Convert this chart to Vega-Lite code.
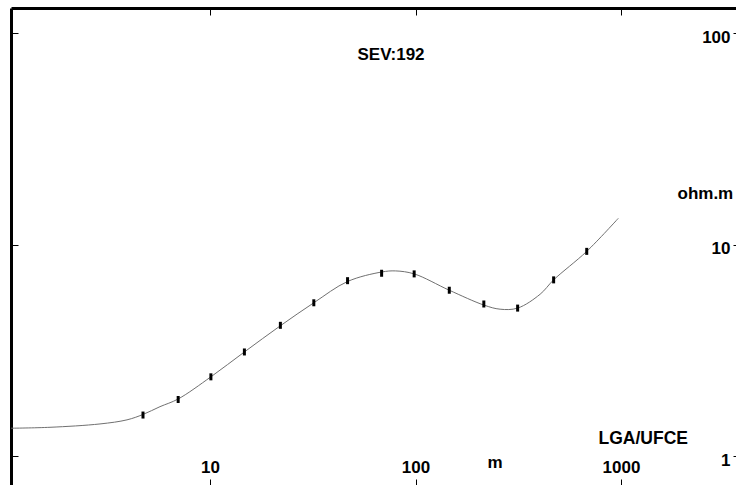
{
  "$schema": "https://vega.github.io/schema/vega-lite/v6.json",
  "width": 729,
  "height": 477,
  "autosize": {"type": "none"},
  "padding": {"left": 11, "top": 8, "right": 0, "bottom": 0},
  "background": "white",
  "config": {"view": {"stroke": null}, "font": "Liberation Sans"},
  "title": {"text": "SEV:192", "font": "Liberation Sans", "fontSize": 17, "fontWeight": "bold", "color": "black", "anchor": "middle", "dx": 15.5, "offset": -69.5, "baseline": "alphabetic"},
  "resolve": {"axis": {"x": "independent", "y": "independent"}},
  "layer": [
    {
      "data": {"values": [
        {"ab2": 1.07, "rho": 1.36},
        {"ab2": 1.665, "rho": 1.374},
        {"ab2": 2.915, "rho": 1.425},
        {"ab2": 3.945, "rho": 1.49},
        {"ab2": 4.72, "rho": 1.58},
        {"ab2": 5.71, "rho": 1.72},
        {"ab2": 7.0, "rho": 1.87},
        {"ab2": 10.1, "rho": 2.38},
        {"ab2": 14.7, "rho": 3.12},
        {"ab2": 22.0, "rho": 4.15},
        {"ab2": 32.0, "rho": 5.33},
        {"ab2": 46.7, "rho": 6.72},
        {"ab2": 68.4, "rho": 7.45},
        {"ab2": 80, "rho": 7.54},
        {"ab2": 98.5, "rho": 7.3},
        {"ab2": 146, "rho": 6.11},
        {"ab2": 215, "rho": 5.2},
        {"ab2": 258, "rho": 4.97},
        {"ab2": 314, "rho": 5.03},
        {"ab2": 404, "rho": 5.85},
        {"ab2": 470, "rho": 6.84},
        {"ab2": 681, "rho": 9.33},
        {"ab2": 970, "rho": 13.37}
      ]},
      "mark": {"type": "line", "interpolate": "catmull-rom", "color": "#707070", "strokeWidth": 1, "clip": true},
      "encoding": {
        "x": {
          "field": "ab2", "type": "quantitative",
          "scale": {"type": "log", "domain": [1.0755, 3793], "nice": false, "zero": false},
          "axis": {
            "orient": "top", "offset": -477, "values": [10, 100, 1000], "format": "d",
            "grid": false, "tickSize": 6, "tickColor": "black", "tickWidth": 1,
            "domain": true, "domainColor": "#c8c8c8", "domainWidth": 1,
            "labelFont": "Liberation Sans", "labelFontSize": 17, "labelFontWeight": "bold", "labelColor": "black",
            "labelPadding": 7, "labelBaseline": "alphabetic", "labelFlush": false, "labelOverlap": false,
            "title": "m", "titleFont": "Liberation Sans", "titleFontSize": 17, "titleFontWeight": "bold", "titleColor": "black",
            "titleX": 476, "titleY": -18, "titleAlign": "left", "titleBaseline": "alphabetic", "titleAngle": 0
          }
        },
        "y": {
          "field": "rho", "type": "quantitative",
          "scale": {"type": "log", "domain": [0.733, 132], "nice": false, "zero": false},
          "axis": {
            "orient": "left", "offset": -729, "values": [1, 10, 100], "format": "d",
            "grid": false, "tickSize": 7, "tickColor": "black", "tickWidth": 1,
            "domain": false,
            "labelFont": "Liberation Sans", "labelFontSize": 17, "labelFontWeight": "bold", "labelColor": "black",
            "labelPadding": 3, "labelAlign": "right", "labelBaseline": "middle", "labelOffset": 4, "labelFlush": false, "labelOverlap": false,
            "title": "ohm.m", "titleFont": "Liberation Sans", "titleFontSize": 17, "titleFontWeight": "bold", "titleColor": "black",
            "titleX": -63, "titleY": 190, "titleAlign": "left", "titleBaseline": "alphabetic", "titleAngle": 0
          }
        }
      }
    },
    {
      "data": {"values": [
        {"ab2": 4.72, "rho": 1.57},
        {"ab2": 7.0, "rho": 1.86},
        {"ab2": 10.1, "rho": 2.38},
        {"ab2": 14.7, "rho": 3.12},
        {"ab2": 22.0, "rho": 4.17},
        {"ab2": 32.0, "rho": 5.33},
        {"ab2": 46.7, "rho": 6.78},
        {"ab2": 68.4, "rho": 7.35},
        {"ab2": 98.5, "rho": 7.3},
        {"ab2": 146, "rho": 6.11},
        {"ab2": 215, "rho": 5.26},
        {"ab2": 314, "rho": 5.03},
        {"ab2": 470, "rho": 6.84},
        {"ab2": 681, "rho": 9.33}
      ]},
      "mark": {"type": "tick", "orient": "vertical", "color": "black", "size": 7, "thickness": 3, "opacity": 1},
      "encoding": {
        "x": {
          "field": "ab2", "type": "quantitative",
          "scale": {"type": "log", "domain": [1.0755, 3793], "nice": false, "zero": false},
          "axis": {
            "orient": "bottom", "offset": -477, "values": [10, 100, 1000],
            "grid": false, "tickSize": 7, "tickColor": "black", "tickWidth": 1,
            "domain": true, "domainColor": "black", "domainWidth": 3,
            "labels": false,
            "title": "LGA/UFCE", "titleFont": "Liberation Sans", "titleFontSize": 17.5, "titleFontWeight": "bold", "titleColor": "black",
            "titleX": 587, "titleY": 435, "titleAlign": "left", "titleBaseline": "alphabetic", "titleAngle": 0
          }
        },
        "y": {
          "field": "rho", "type": "quantitative",
          "scale": {"type": "log", "domain": [0.733, 132], "nice": false, "zero": false},
          "axis": {
            "orient": "right", "offset": -729, "values": [1, 10, 100],
            "grid": false, "tickSize": 7, "tickColor": "black", "tickWidth": 1,
            "domain": true, "domainColor": "black", "domainWidth": 3,
            "labels": false, "title": null
          }
        }
      }
    }
  ]
}
